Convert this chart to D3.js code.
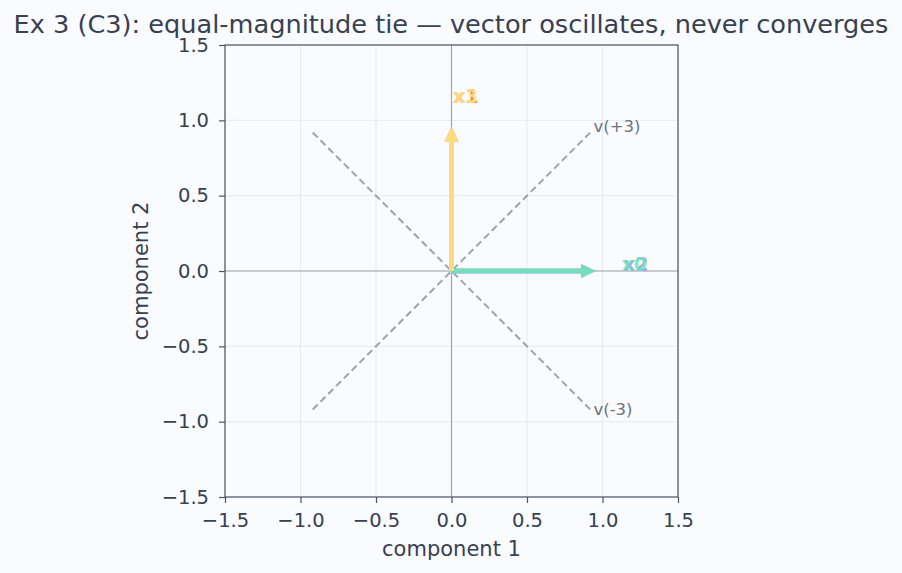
<!DOCTYPE html>
<html><head><meta charset="utf-8">
<script src="https://cdn.jsdelivr.net/npm/d3@7/dist/d3.min.js"></script>
<style>body{margin:0;background:#fafbfe;}svg{display:block;font-family:"DejaVu Sans",sans-serif;}</style>
</head><body><svg id="c" width="902" height="573"></svg>
<script>
const ticks = [-1.5,-1.0,-0.5,0.0,0.5,1.0,1.5];
const vecNames = ["x0","x1","x2","x3"];
const vecX = [0.957, 0, 0.957, 0];
const vecY = [0, 0.957, 0, 0.957];
const vecColors = ["#6ee7b7","#f97316","#a78bfa","#fde68a"];
const labelX = [1.21, 0.095, 1.22, 0.095];
const labelY = [0.045, 1.16, 0.045, 1.16];
const eigNames = ["v(+3)","v(-3)"];
const eigEndX = [0.919, 0.919];
const eigEndY = [0.919, -0.919];
const eigLabelX = [0.94, 0.94];
const eigLabelY = [0.96, -0.915];

const svg = d3.select("#c");
const L=225,R=678,T=45,B=497;
const x = d3.scaleLinear().domain([-1.5,1.5]).range([L,R]);
const y = d3.scaleLinear().domain([-1.5,1.5]).range([B,T]);
const txt="#374151";
const fmt = d=> d3.format(".1f")(d).replace("-","\u2212");

svg.append("rect").attr("width",902).attr("height",573).attr("fill","#fafbfe");
const g = svg.append("g");
ticks.forEach(t=>{
  g.append("line").attr("x1",x(t)).attr("x2",x(t)).attr("y1",T).attr("y2",B).attr("stroke","#e5e7eb").attr("stroke-width",1).attr("opacity",0.8);
  g.append("line").attr("y1",y(t)).attr("y2",y(t)).attr("x1",L).attr("x2",R).attr("stroke","#e5e7eb").attr("stroke-width",1).attr("opacity",0.8);
});
g.append("line").attr("x1",x(0)).attr("x2",x(0)).attr("y1",T).attr("y2",B).attr("stroke","#a3a3a3").attr("stroke-width",1.2);
g.append("line").attr("y1",y(0)).attr("y2",y(0)).attr("x1",L).attr("x2",R).attr("stroke","#a3a3a3").attr("stroke-width",1.2);

eigNames.forEach((n,i)=>{
  g.append("line").attr("x1",x(-eigEndX[i])).attr("y1",y(-eigEndY[i])).attr("x2",x(eigEndX[i])).attr("y2",y(eigEndY[i]))
   .attr("stroke","#9ca3af").attr("stroke-width",2).attr("stroke-dasharray","7,4");
  g.append("text").attr("x",x(eigLabelX[i])).attr("y",y(eigLabelY[i])).attr("dy","0.35em").attr("fill","#6b7280").attr("font-size",16.5).text(n);
});

function arrow(x2v,y2v,color,op){
  const x0=x(0),y0=y(0),x1=x(x2v),y1=y(y2v);
  const dx=x1-x0, dy=y1-y0, len=Math.hypot(dx,dy), ux=dx/len, uy=dy/len;
  const hl=15, hw=7;
  const bx=x1-ux*hl, by=y1-uy*hl;
  g.append("line").attr("x1",x0).attr("y1",y0).attr("x2",bx+ux*1).attr("y2",by+uy*1).attr("stroke",color).attr("stroke-width",5).attr("opacity",op);
  g.append("path").attr("d",`M${x1},${y1}L${bx-uy*hw},${by+ux*hw}L${bx+uy*hw},${by-ux*hw}Z`).attr("fill",color).attr("opacity",op);
}
[2,1,0,3].forEach(i=>arrow(vecX[i],vecY[i],vecColors[i],0.9));
[2,0,1,3].forEach(i=>{
  g.append("text").attr("x",x(labelX[i])).attr("y",y(labelY[i])).attr("text-anchor","middle").attr("dy","0.36em")
   .attr("fill",vecColors[i]).attr("font-size",19).attr("font-weight","bold").attr("opacity",0.85).text(vecNames[i]);
});

svg.append("rect").attr("x",L).attr("y",T).attr("width",R-L).attr("height",B-T).attr("fill","none").attr("stroke","#4b5563").attr("stroke-width",1.2);
const xa = svg.append("g").attr("transform",`translate(0,${B})`).call(d3.axisBottom(x).tickValues(ticks).tickFormat(fmt).tickSize(6).tickPadding(10));
const ya = svg.append("g").attr("transform",`translate(${L},0)`).call(d3.axisLeft(y).tickValues(ticks).tickFormat(fmt).tickSize(6).tickPadding(10));
[xa,ya].forEach(a=>{a.select(".domain").remove();a.selectAll("line").attr("stroke","#4b5563").attr("stroke-width",1.2);a.selectAll("text").attr("fill",txt).attr("font-size",19.5).attr("font-family","DejaVu Sans");});

svg.append("text").attr("x",(L+R)/2).attr("y",556).attr("text-anchor","middle").attr("fill",txt).attr("font-size",21).text("component 1");
svg.append("text").attr("transform",`translate(148,${(T+B)/2}) rotate(-90)`).attr("text-anchor","middle").attr("fill",txt).attr("font-size",21).text("component 2");
svg.append("text").attr("x",451).attr("y",33).attr("text-anchor","middle").attr("fill",txt).attr("font-size",25.6).text("Ex 3 (C3): equal-magnitude tie \u2014 vector oscillates, never converges");
</script></body></html>
